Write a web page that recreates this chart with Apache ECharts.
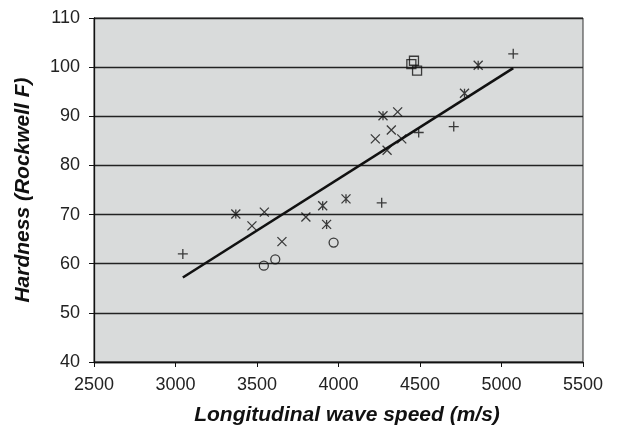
<!DOCTYPE html>
<html>
<head>
<meta charset="utf-8">
<script src="https://cdn.jsdelivr.net/npm/echarts@6/dist/echarts.min.js"></script>
<style>
html,body{margin:0;padding:0;background:#fff;}
#chart{width:630px;height:426px;}
</style>
</head>
<body>
<div id="chart"></div>
<script>
// Data
var plusPoints = [[3045,62.0],[4265,72.4],[4492,86.7],[4707,87.9],[5072,102.7]];
var crossPoints = [[3545,70.5],[3469,67.7],[3653,64.5],[3800,69.5],[4226,85.4],[4324,87.2],[4363,90.9],[4388,85.4],[4298,83.1]];
var starPoints = [[3370,70.1],[3903,71.8],[3927,68.0],[4046,73.2],[4273,90.1],[4773,94.7],[4857,100.4]];
var circlePoints = [[3542,59.6],[3612,60.9],[3970,64.3]];
var squarePoints = [[4463,101.3],[4447,100.6],[4482,99.3]];
var trendX = [3045, 5072];
var trendY = [57.2, 99.8];
var xTicks = [2500, 3000, 3500, 4000, 4500, 5000, 5500];
var yTicks = [40, 50, 60, 70, 80, 90, 100, 110];

var trendLine = trendX.map(function(x, i){ return [x, trendY[i]]; });

var font = '"Liberation Sans", Arial, Helvetica, sans-serif';
var chart = echarts.init(document.getElementById('chart'), null, {renderer:'canvas'});

function markSeries(data, symbol, size, z){
  return {
    type: 'scatter',
    data: data,
    symbol: symbol,
    symbolSize: size,
    z: z,
    itemStyle: { color: 'rgba(0,0,0,0)', borderColor: '#111', borderWidth: 1.3 },
    emphasis: { disabled: true },
    silent: true
  };
}

chart.setOption({
  animation: false,
  backgroundColor: '#fff',
  grid: {
    left: 94, right: 47, top: 18, bottom: 64,
    outerBoundsMode: 'none', containLabel: false,
    show: true, backgroundColor: '#d9dbdb', borderColor: '#333', borderWidth: 1
  },
  xAxis: {
    type: 'value', min: xTicks[0], max: xTicks[xTicks.length-1], interval: 500,
    name: 'Longitudinal wave speed (m/s)',
    nameLocation: 'middle', nameGap: 43,
    nameTextStyle: { fontFamily: font, fontSize: 21, fontWeight: 'bold', fontStyle: 'italic', color: '#111', padding: [0,0,0,17] },
    axisLine: { show: true, lineStyle: { color: '#111', width: 1.3 } },
    axisTick: { show: true, length: 5, lineStyle: { color: '#111' } },
    axisLabel: { fontFamily: font, fontSize: 18, color: '#222', margin: 14, formatter: function(v){ return String(v); } },
    splitLine: { show: false }
  },
  yAxis: {
    type: 'value', min: yTicks[0], max: yTicks[yTicks.length-1], interval: 10,
    name: 'Hardness (Rockwell F)',
    nameLocation: 'middle', nameGap: 60,
    nameTextStyle: { fontFamily: font, fontSize: 21, fontWeight: 'bold', fontStyle: 'italic', color: '#111' },
    axisLine: { show: true, lineStyle: { color: '#111', width: 1.3 } },
    axisTick: { show: true, length: 5, lineStyle: { color: '#111' } },
    axisLabel: { fontFamily: font, fontSize: 18, color: '#222', margin: 14, formatter: function(v){ return String(v); } },
    splitLine: { show: true, lineStyle: { color: '#222', width: 1.3 } }
  },
  series: [
    {
      type: 'line', data: trendLine, symbol: 'none', z: 3,
      lineStyle: { color: '#111', width: 2.6 }, silent: true
    },
    markSeries(plusPoints, 'path://M5,0L5,10M0,5L10,5', 10, 4),
    markSeries(crossPoints, 'path://M0,0L10,10M10,0L0,10', 9, 4),
    markSeries(starPoints, 'path://M0,0L10,10M10,0L0,10M5,0L5,10', 9, 4),
    markSeries(circlePoints, 'circle', 9, 4),
    markSeries(squarePoints, 'rect', 9, 4)
  ]
});
</script>
</body>
</html>
